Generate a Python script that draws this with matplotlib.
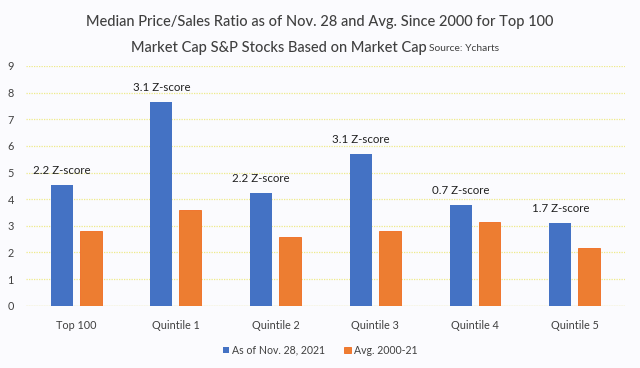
import numpy as np
import matplotlib.pyplot as plt

plt.rcParams['font.family'] = ['Lato', 'DejaVu Sans']

categories = ["Top 100", "Quintile 1", "Quintile 2", "Quintile 3", "Quintile 4", "Quintile 5"]
current_ps = [4.53, 7.63, 4.23, 5.68, 3.79, 3.10]
avg_ps = [2.79, 3.60, 2.58, 2.79, 3.14, 2.17]
zscores = ["2.2 Z-score", "3.1 Z-score", "2.2 Z-score", "3.1 Z-score", "0.7 Z-score", "1.7 Z-score"]

BLUE = "#4472C4"
ORANGE = "#ED7D31"
TXT = "#404040"
BG = "#FBFBFE"

fig = plt.figure(figsize=(6.4, 3.68), dpi=100, facecolor=BG)
ax = fig.add_axes([0.041, 0.169, 0.935, 0.652])
ax.set_facecolor(BG)

x = np.arange(len(categories))
w = 0.22
off = 0.145
ax.bar(x - off, current_ps, width=w, color=BLUE, label="As of Nov. 28, 2021", zorder=3)
ax.bar(x + off, avg_ps, width=w, color=ORANGE, edgecolor="#F06A1E", linewidth=0.6,
       label="Avg. 2000-21", zorder=3)

# z-score labels sit over the blue bars
for xi, v, z in zip(x, current_ps, zscores):
    ax.annotate(z, (xi - off, v), xytext=(0, 10.5), textcoords="offset points",
                ha="center", va="center", fontsize=8.3, color="#202020")

ax.set_xlim(-0.5, len(categories) - 0.5)
ax.set_ylim(0, 9)
ax.set_yticks(range(10))
ax.set_xticks(x)
ax.set_xticklabels(categories)
ax.tick_params(axis="both", length=0, labelsize=7.8, labelcolor=TXT)
ax.tick_params(axis="x", pad=10)
ax.tick_params(axis="y", pad=9)
ax.grid(axis="y", color="#EFEA8A", linestyle=(0, (1, 1)), linewidth=0.9, zorder=0)
for s in ax.spines.values():
    s.set_visible(False)
ax.axhline(0, color="#EDE9A8", linewidth=0.9, zorder=2)

fig.text(0.5, 0.940, "Median Price/Sales Ratio as of Nov. 28 and Avg. Since 2000 for Top 100",
         ha="center", va="center", fontsize=10.5, color=TXT, weight="medium")
fig.text(0.667, 0.869, "Market Cap S&P Stocks Based on Market Cap", ha="right", va="center",
         fontsize=10.5, color=TXT, weight="medium")
fig.text(0.671, 0.867, "Source: Ycharts", ha="left", va="center", fontsize=7.4, color=TXT)

fig.legend(loc="center", bbox_to_anchor=(0.5, 0.048), ncol=2, frameon=False,
           fontsize=7.6, handlelength=0.6, handleheight=0.6, handletextpad=0.3,
           columnspacing=1.8, labelcolor=TXT)

fig.savefig("out.png", dpi=100, facecolor=BG)
